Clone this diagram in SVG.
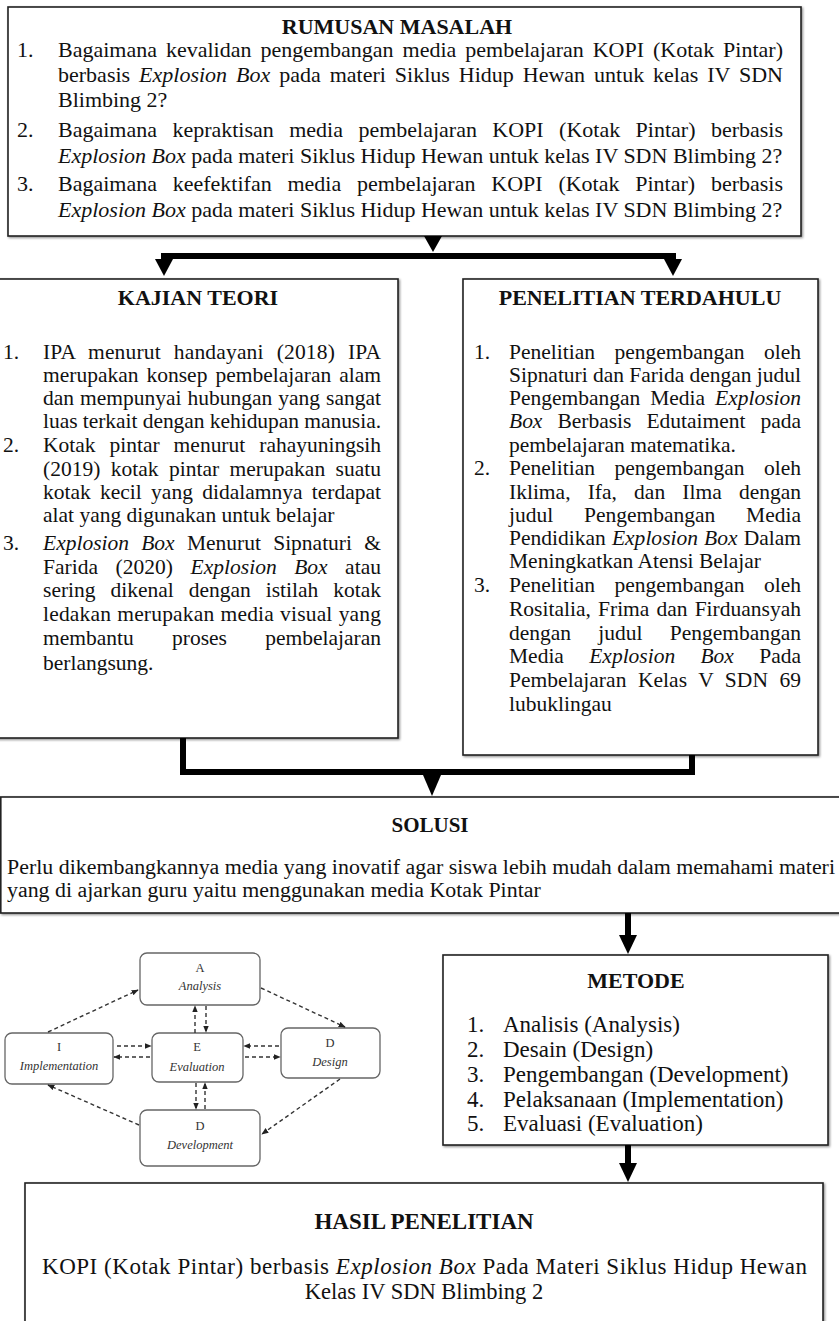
<svg xmlns="http://www.w3.org/2000/svg" width="839" height="1321" viewBox="0 0 839 1321">
<defs>
<style>
.t{font-family:"Liberation Serif","Times New Roman",serif;font-size:21.5px;fill:#111}
.tt{font-size:22px}
.tm{font-size:23px}
.h{font-weight:bold;text-anchor:middle}
.i{font-style:italic}
.box{fill:#fff;stroke:#222;stroke-width:1.6}
.con{fill:none;stroke:#000;stroke-width:6}
.ah{fill:#000}
.ab{fill:#fff;stroke:#666;stroke-width:1.3}
.at{font-family:"Liberation Serif","Times New Roman",serif;font-size:12.5px;fill:#333;text-anchor:middle}
.dl{fill:none;stroke:#333;stroke-width:1.4;stroke-dasharray:4 3}
</style>
<filter id="sh" x="-5%" y="-5%" width="110%" height="110%">
<feDropShadow dx="1.2" dy="1.2" stdDeviation="0.8" flood-color="#000" flood-opacity="0.45"/>
</filter>
<marker id="m" viewBox="0 0 10 10" refX="9" refY="5" markerWidth="7" markerHeight="7" markerUnits="userSpaceOnUse" orient="auto">
<path d="M0,1 L10,5 L0,9 z" fill="#222"/>
</marker>
</defs>
<rect width="839" height="1321" fill="#fff"/>

<g id="rumusan">
<rect class="box" x="8" y="7" width="793" height="229" filter="url(#sh)"/>
<text class="t tt h" x="397" y="34">RUMUSAN MASALAH</text>
<text class="t tt" x="17" y="57">1.</text>
<text class="t tt" x="58" y="57" word-spacing="3.5" textLength="725" lengthAdjust="spacing">Bagaimana kevalidan pengembangan media pembelajaran KOPI (Kotak Pintar)</text>
<text class="t tt" x="58" y="82" word-spacing="3.4" textLength="725" lengthAdjust="spacing">berbasis <tspan class="i">Explosion Box</tspan> pada materi Siklus Hidup Hewan untuk kelas IV SDN</text>
<text class="t tt" x="58" y="107">Blimbing 2?</text>
<text class="t tt" x="17" y="137">2.</text>
<text class="t tt" x="58" y="137" word-spacing="9.9" textLength="725" lengthAdjust="spacing">Bagaimana kepraktisan media pembelajaran KOPI (Kotak Pintar) berbasis</text>
<text class="t tt" x="58" y="163"><tspan class="i">Explosion Box</tspan> pada materi Siklus Hidup Hewan untuk kelas IV SDN Blimbing 2?</text>
<text class="t tt" x="17" y="191">3.</text>
<text class="t tt" x="58" y="191" word-spacing="10.3" textLength="725" lengthAdjust="spacing">Bagaimana keefektifan media pembelajaran KOPI (Kotak Pintar) berbasis</text>
<text class="t tt" x="58" y="217"><tspan class="i">Explosion Box</tspan> pada materi Siklus Hidup Hewan untuk kelas IV SDN Blimbing 2?</text>
</g>

<g id="kajian">
<rect class="box" x="-3" y="279" width="401" height="459" filter="url(#sh)"/>
<text class="t tt h" x="198" y="305">KAJIAN TEORI</text>
<text class="t" x="3" y="359">1.</text>
<text class="t" x="43" y="359" word-spacing="7.5" textLength="338" lengthAdjust="spacing">IPA menurut handayani (2018) IPA</text>
<text class="t" x="43" y="382" word-spacing="2.7" textLength="338" lengthAdjust="spacing">merupakan konsep pembelajaran alam</text>
<text class="t" x="43" y="405" word-spacing="0.6" textLength="338" lengthAdjust="spacing">dan mempunyai hubungan yang sangat</text>
<text class="t" x="43" y="428" textLength="338" lengthAdjust="spacing">luas terkait dengan kehidupan manusia.</text>
<text class="t" x="3" y="452">2.</text>
<text class="t" x="43" y="452" word-spacing="8.6" textLength="338" lengthAdjust="spacing">Kotak pintar menurut rahayuningsih</text>
<text class="t" x="43" y="476" word-spacing="5" textLength="338" lengthAdjust="spacing">(2019) kotak pintar merupakan suatu</text>
<text class="t" x="43" y="499" word-spacing="3.9" textLength="338" lengthAdjust="spacing">kotak kecil yang didalamnya terdapat</text>
<text class="t" x="43" y="522">alat yang digunakan untuk belajar</text>
<text class="t" x="3" y="550">3.</text>
<text class="t" x="43" y="550" word-spacing="6.9" textLength="338" lengthAdjust="spacing"><tspan class="i">Explosion Box</tspan> Menurut Sipnaturi &amp;</text>
<text class="t" x="43" y="574" word-spacing="12" textLength="338" lengthAdjust="spacing">Farida (2020) <tspan class="i">Explosion Box</tspan> atau</text>
<text class="t" x="43" y="597" word-spacing="9.5" textLength="338" lengthAdjust="spacing">sering dikenal dengan istilah kotak</text>
<text class="t" x="43" y="621" word-spacing="0.6" textLength="338" lengthAdjust="spacing">ledakan  merupakan media visual yang</text>
<text class="t" x="43" y="645" word-spacing="33" textLength="338" lengthAdjust="spacing">membantu proses pembelajaran</text>
<text class="t" x="43" y="670">berlangsung.</text>
</g>

<g id="penelitian">
<rect class="box" x="463" y="279" width="355" height="476" filter="url(#sh)"/>
<text class="t tt h" x="640" y="305">PENELITIAN TERDAHULU</text>
<text class="t" x="474" y="359">1.</text>
<text class="t" x="509" y="359" word-spacing="14" textLength="292" lengthAdjust="spacing">Penelitian pengembangan oleh</text>
<text class="t" x="509" y="382" textLength="292" lengthAdjust="spacing">Sipnaturi dan Farida dengan judul</text>
<text class="t" x="509" y="405" word-spacing="4.5" textLength="292" lengthAdjust="spacing">Pengembangan Media <tspan class="i">Explosion</tspan></text>
<text class="t" x="509" y="428" word-spacing="9.6" textLength="292" lengthAdjust="spacing"><tspan class="i">Box</tspan> Berbasis Edutaiment pada</text>
<text class="t" x="509" y="452">pembelajaran matematika.</text>
<text class="t" x="474" y="475">2.</text>
<text class="t" x="509" y="475" word-spacing="14" textLength="292" lengthAdjust="spacing">Penelitian pengembangan oleh</text>
<text class="t" x="509" y="499" word-spacing="11.8" textLength="292" lengthAdjust="spacing">Iklima, Ifa, dan Ilma dengan</text>
<text class="t" x="509" y="522" word-spacing="25.5" textLength="292" lengthAdjust="spacing">judul Pengembangan Media</text>
<text class="t" x="509" y="545" word-spacing="0.7" textLength="292" lengthAdjust="spacing">Pendidikan <tspan class="i">Explosion Box</tspan> Dalam</text>
<text class="t" x="509" y="568">Meningkatkan Atensi Belajar</text>
<text class="t" x="474" y="592">3.</text>
<text class="t" x="509" y="592" word-spacing="14" textLength="292" lengthAdjust="spacing">Penelitian pengembangan oleh</text>
<text class="t" x="509" y="616" word-spacing="1.7" textLength="292" lengthAdjust="spacing">Rositalia, Frima dan Firduansyah</text>
<text class="t" x="509" y="640" word-spacing="22" textLength="292" lengthAdjust="spacing">dengan judul Pengembangan</text>
<text class="t" x="509" y="663" word-spacing="20" textLength="292" lengthAdjust="spacing">Media <tspan class="i">Explosion Box</tspan> Pada</text>
<text class="t" x="509" y="687" word-spacing="6.1" textLength="292" lengthAdjust="spacing">Pembelajaran Kelas V SDN 69</text>
<text class="t" x="509" y="711">lubuklingau</text>
</g>

<g id="solusi">
<rect class="box" x="0.8" y="797" width="850" height="116" filter="url(#sh)"/>
<text class="t h" x="430" y="832" style="font-size:21px">SOLUSI</text>
<text class="t" x="7" y="874" style="font-size:21.9px" textLength="828" lengthAdjust="spacing">Perlu dikembangkannya media yang inovatif agar siswa lebih mudah dalam memahami materi</text>
<text class="t" x="7" y="897" style="font-size:21.9px">yang di ajarkan guru yaitu menggunakan media Kotak Pintar</text>
</g>

<g id="addie">
<rect class="ab" x="140" y="953" width="120" height="52" rx="7"/>
<text class="at" x="200" y="972">A</text>
<text class="at i" x="200" y="990">Analysis</text>
<rect class="ab" x="5" y="1033" width="108" height="51" rx="7"/>
<text class="at" x="59" y="1051">I</text>
<text class="at i" x="59" y="1070">Implementation</text>
<rect class="ab" x="152" y="1033" width="91" height="49" rx="7"/>
<text class="at" x="197" y="1051">E</text>
<text class="at i" x="197" y="1071">Evaluation</text>
<rect class="ab" x="281" y="1028" width="99" height="50" rx="7"/>
<text class="at" x="330" y="1047">D</text>
<text class="at i" x="330" y="1066">Design</text>
<rect class="ab" x="140" y="1110" width="120" height="56" rx="7"/>
<text class="at" x="200" y="1130">D</text>
<text class="at i" x="200" y="1149">Development</text>
</g>

<g id="metode">
<rect class="box" x="443" y="955" width="385" height="190" filter="url(#sh)"/>
<text class="t h" x="636" y="988" style="font-size:22px">METODE</text>
<text class="t tm" x="467" y="1032">1.</text><text class="t tm" x="503" y="1032">Analisis (Analysis)</text>
<text class="t tm" x="467" y="1057">2.</text><text class="t tm" x="503" y="1057">Desain (Design)</text>
<text class="t tm" x="467" y="1082">3.</text><text class="t tm" x="503" y="1082">Pengembangan (Development)</text>
<text class="t tm" x="467" y="1107">4.</text><text class="t tm" x="503" y="1107">Pelaksanaan (Implementation)</text>
<text class="t tm" x="467" y="1131">5.</text><text class="t tm" x="503" y="1131">Evaluasi (Evaluation)</text>
</g>

<g id="hasil">
<rect class="box" x="25" y="1183" width="798" height="160" filter="url(#sh)"/>
<text class="t h" x="424" y="1229" style="font-size:23px">HASIL PENELITIAN</text>
<text class="t" x="42" y="1274" style="font-size:23px" textLength="765" lengthAdjust="spacing">KOPI (Kotak Pintar) berbasis <tspan class="i">Explosion Box</tspan> Pada Materi Siklus Hidup Hewan</text>
<text class="t" x="424" y="1299" style="font-size:22.5px" text-anchor="middle">Kelas IV SDN Blimbing 2</text>
</g>

<g id="connectors">
<polygon class="ah" points="424,236 442,236 433,252"/>
<path class="con" d="M164,262 V256 H673 V262"/>
<polygon class="ah" points="155,259 173,259 164,276"/>
<polygon class="ah" points="664,259 682,259 673,276"/>
<path class="con" d="M183,738 V772 H692 V755"/>
<polygon class="ah" points="423,775 441,775 432,796"/>
<path class="con" d="M628,913 V937"/>
<polygon class="ah" points="619,935 637,935 628,954"/>
<path class="con" d="M628,1145 V1165"/>
<polygon class="ah" points="619,1163 637,1163 628,1182"/>
<path class="dl" d="M48,1032 L138,990" marker-end="url(#m)"/>
<path class="dl" d="M261,988 L345,1027" marker-end="url(#m)"/>
<path class="dl" d="M340,1079 L262,1134" marker-end="url(#m)"/>
<path class="dl" d="M139,1125 L48,1085" marker-end="url(#m)"/>
<path class="dl" d="M195,1033 L195,1006" marker-end="url(#m)"/>
<path class="dl" d="M206,1006 L206,1032" marker-end="url(#m)"/>
<path class="dl" d="M117,1046 L151,1046" marker-end="url(#m)"/>
<path class="dl" d="M150,1057 L114,1057" marker-end="url(#m)"/>
<path class="dl" d="M279,1046 L244,1046" marker-end="url(#m)"/>
<path class="dl" d="M245,1057 L280,1057" marker-end="url(#m)"/>
<path class="dl" d="M196,1083 L196,1109" marker-end="url(#m)"/>
<path class="dl" d="M205,1109 L205,1083" marker-end="url(#m)"/>
</g>
</svg>
